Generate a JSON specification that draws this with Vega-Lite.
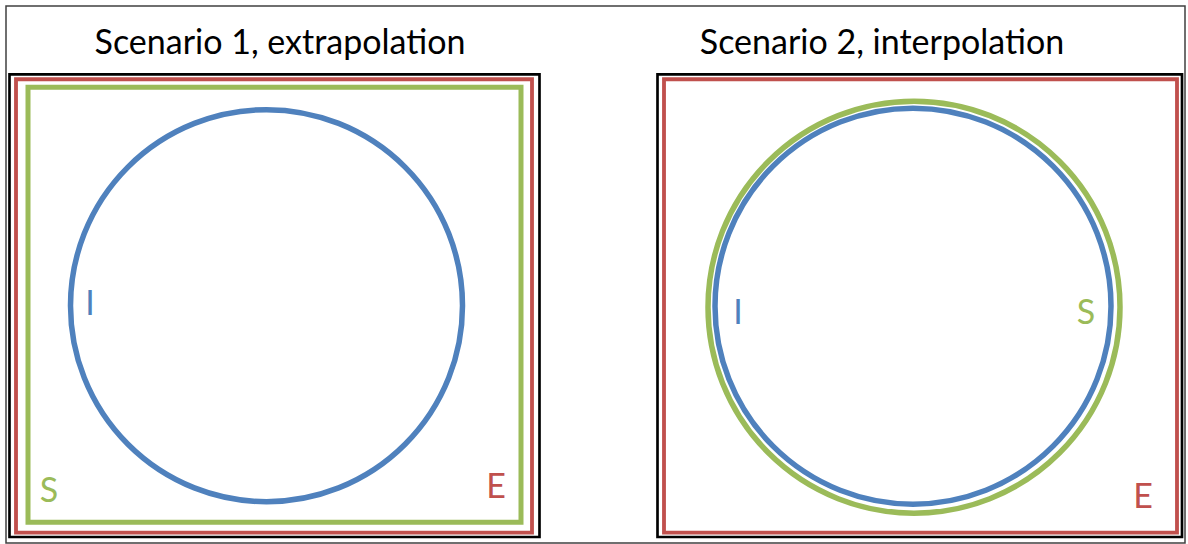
{
  "$schema": "https://vega.github.io/schema/vega-lite/v6.json",
  "autosize": {"type": "fit", "contains": "padding"},
  "width": 1188,
  "height": 544,
  "padding": 0,
  "background": "white",
  "config": {"view": {"stroke": null}},
  "datasets": {
    "rects": [
      {"set": "border", "x0": 6, "x1": 1185, "y0": 6, "y1": 548},
      {"set": "frame", "x0": 9.5, "x1": 539.5, "y0": 75, "y1": 542},
      {"set": "frame", "x0": 657.5, "x1": 1182, "y0": 75, "y1": 542},
      {"set": "E", "x0": 16, "x1": 532, "y0": 80, "y1": 537.5},
      {"set": "S", "x0": 28, "x1": 521, "y0": 88, "y1": 527},
      {"set": "E", "x0": 664, "x1": 1177, "y0": 80, "y1": 537.5}
    ],
    "circles": [
      {"set": "I", "cx": 266.5, "cy": 308.5, "r": 196},
      {"set": "S", "cx": 914, "cy": 310, "r": 206},
      {"set": "I", "cx": 913, "cy": 309, "r": 198}
    ],
    "labels": [
      {"set": "title", "text": "Scenario 1, extrapolation", "x": 280, "y": 55},
      {"set": "title", "text": "Scenario 2, interpolation", "x": 882, "y": 55},
      {"set": "I", "text": "I", "x": 90, "y": 318},
      {"set": "S", "text": "S", "x": 49, "y": 507},
      {"set": "E", "text": "E", "x": 496, "y": 503},
      {"set": "I", "text": "I", "x": 738, "y": 327},
      {"set": "S", "text": "S", "x": 1086, "y": 327},
      {"set": "E", "text": "E", "x": 1143, "y": 513}
    ]
  },
  "layer": [
    {
      "data": {"name": "rects"},
      "mark": {"type": "rect", "fillOpacity": 0, "strokeWidth": 4},
      "encoding": {
        "x": {"field": "x0", "type": "quantitative", "scale": {"domain": [0, 1188], "nice": false, "zero": false}, "axis": null},
        "x2": {"field": "x1"},
        "y": {"field": "y0", "type": "quantitative", "scale": {"domain": [544, 0], "nice": false, "zero": false}, "axis": null},
        "y2": {"field": "y1"},
        "stroke": {"field": "set", "type": "nominal", "scale": {"domain": ["border", "frame", "E", "S", "I"], "range": ["#404040", "#000000", "#C0504D", "#9BBB59", "#4F81BD"]}, "legend": null},
        "strokeWidth": {"field": "set", "type": "nominal", "scale": {"domain": ["border", "frame", "E", "S"], "range": [1.5, 5, 4.5, 4.5]}, "legend": null}
      }
    },
    {
      "data": {"name": "circles"},
      "mark": {"type": "point", "shape": "circle", "filled": false, "strokeWidth": 5.5, "opacity": 1},
      "encoding": {
        "x": {"field": "cx", "type": "quantitative"},
        "y": {"field": "cy", "type": "quantitative"},
        "size": {"field": "r", "type": "quantitative", "scale": {"type": "pow", "exponent": 2, "domain": [0, 200], "range": [0, 160000]}, "legend": null},
        "stroke": {"field": "set", "type": "nominal", "scale": {"domain": ["border", "frame", "E", "S", "I"], "range": ["#404040", "#000000", "#C0504D", "#9BBB59", "#4F81BD"]}, "legend": null}
      }
    },
    {
      "data": {"name": "labels"},
      "mark": {"type": "text", "font": "Lato", "fontSize": 34, "baseline": "alphabetic", "align": "center"},
      "encoding": {
        "x": {"field": "x", "type": "quantitative"},
        "y": {"field": "y", "type": "quantitative"},
        "text": {"field": "text"},
        "color": {"field": "set", "type": "nominal", "scale": {"domain": ["title", "E", "S", "I"], "range": ["#000000", "#C0504D", "#9BBB59", "#4F81BD"]}, "legend": null}
      }
    }
  ]
}
